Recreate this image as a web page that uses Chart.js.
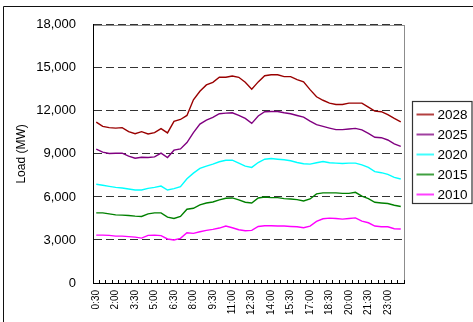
<!DOCTYPE html>
<html>
<head>
<meta charset="utf-8">
<script src="https://cdn.jsdelivr.net/npm/chart.js@4/dist/chart.umd.min.js"></script>
<style>
  html, body { margin: 0; padding: 0; background: #fff; }
  canvas { display: block; }
</style>
</head>
<body>
<canvas id="c" width="473" height="322"></canvas>
<script>
// Half-hourly time slots
const timeLabels = [
  '0:30','1:00','1:30','2:00','2:30','3:00','3:30','4:00','4:30','5:00','5:30','6:00',
  '6:30','7:00','7:30','8:00','8:30','9:00','9:30','10:00','10:30','11:00','11:30','12:00',
  '12:30','13:00','13:30','14:00','14:30','15:00','15:30','16:00','16:30','17:00','17:30','18:00',
  '18:30','19:00','19:30','20:00','20:30','21:00','21:30','22:00','22:30','23:00','23:30','24:00'
];

// Load (MW) per year
const load2028 = [11220,10920,10830,10800,10830,10550,10410,10550,10390,10480,10760,10460,
  11270,11400,11680,12770,13370,13810,13990,14340,14340,14430,14340,13990,
  13510,14020,14450,14520,14520,14390,14390,14180,14020,13480,12980,12740,
  12540,12440,12440,12540,12540,12540,12260,11980,11940,11730,11470,11240];
const load2025 = [9330,9120,9030,9050,9050,8840,8700,8770,8750,8790,9050,8750,
  9260,9350,9790,10480,11080,11360,11540,11800,11840,11870,11680,11470,
  11130,11640,11940,11960,11960,11870,11800,11680,11570,11290,11040,10920,
  10800,10690,10690,10740,10780,10670,10430,10160,10130,9970,9700,9530];
const load2020 = [6880,6810,6740,6670,6620,6550,6480,6480,6600,6670,6760,6480,
  6580,6720,7270,7660,7990,8150,8290,8450,8560,8560,8360,8150,
  8060,8400,8630,8680,8630,8590,8520,8400,8310,8290,8380,8470,
  8380,8360,8330,8360,8360,8240,8060,7760,7690,7570,7360,7250];
const load2015 = [4890,4890,4820,4750,4730,4710,4660,4640,4820,4890,4890,4590,
  4500,4640,5140,5210,5450,5580,5650,5790,5910,5930,5790,5630,
  5580,5930,6000,5950,5950,5880,5860,5810,5720,5860,6210,6280,
  6280,6280,6250,6250,6320,6050,5880,5630,5580,5540,5420,5330];
const load2010 = [3340,3340,3320,3270,3270,3230,3200,3130,3320,3340,3300,3070,
  3000,3110,3500,3460,3570,3670,3740,3830,3970,3850,3710,3640,
  3670,3940,3990,3990,3970,3970,3940,3920,3850,3970,4290,4480,
  4520,4500,4450,4500,4540,4310,4200,3970,3920,3920,3780,3760];

const seriesNames = ['2028', '2025', '2020', '2015', '2010'];
const seriesColors = ['#990000', '#800080', '#00FFFF', '#008000', '#FF00FF'];
const seriesData = [load2028, load2025, load2020, load2015, load2010];

const FONT = "'Liberation Sans', Arial, sans-serif";

// Frame, plot background border and boxed legend
const decorations = {
  id: 'decorations',
  beforeDraw(chart) {
    const ctx = chart.ctx;
    const a = chart.chartArea;
    ctx.save();
    ctx.fillStyle = '#fff';
    ctx.fillRect(0, 0, chart.width, chart.height);
    // outer frame
    ctx.strokeStyle = '#111';
    ctx.lineWidth = 1;
    ctx.beginPath();
    ctx.moveTo(3.5, chart.height);
    ctx.lineTo(3.5, 6.5);
    ctx.lineTo(chart.width, 6.5);
    ctx.stroke();
    // plot area outline
    ctx.strokeStyle = '#8c8c8c';
    ctx.strokeRect(Math.round(a.left) + 0.5, Math.round(a.top) + 0.5,
                   Math.round(a.right - a.left), Math.round(a.bottom - a.top));
    ctx.restore();
  },
  afterDraw(chart) {
    const ctx = chart.ctx;
    const a = chart.chartArea;
    const bx = a.right + 8.5, by = 101.5, bw = 59.5, bh = 102;
    ctx.save();
    ctx.fillStyle = '#fff';
    ctx.fillRect(bx, by, bw, bh);
    ctx.strokeStyle = '#333';
    ctx.lineWidth = 1.2;
    ctx.strokeRect(bx, by, bw, bh);
    ctx.font = '13.5px ' + FONT;
    ctx.textBaseline = 'middle';
    ctx.textAlign = 'left';
    chart.data.datasets.forEach((ds, i) => {
      const y = by + 13 + i * 20;
      ctx.strokeStyle = ds.borderColor;
      ctx.globalAlpha = 0.75;
      ctx.lineWidth = 2;
      ctx.beginPath();
      ctx.moveTo(bx + 4, y);
      ctx.lineTo(bx + 21.5, y);
      ctx.stroke();
      ctx.globalAlpha = 1;
      ctx.fillStyle = '#000';
      ctx.fillText(ds.label, bx + 25, y + 0.5);
    });
    ctx.restore();
  }
};

new Chart(document.getElementById('c'), {
  type: 'line',
  data: {
    labels: timeLabels,
    datasets: seriesNames.map((name, i) => ({
      label: name,
      data: seriesData[i],
      borderColor: seriesColors[i],
      backgroundColor: seriesColors[i],
      borderWidth: 1.4,
      pointRadius: 0,
      tension: 0,
      fill: false
    }))
  },
  options: {
    responsive: false,
    animation: false,
    events: [],
    layout: { padding: { top: 24, right: 69, left: 0, bottom: 0 } },
    plugins: {
      legend: { display: false },
      tooltip: { enabled: false }
    },
    scales: {
      x: {
        type: 'category',
        offset: true,
        grid: {
          offset: true,
          drawOnChartArea: false,
          drawTicks: true,
          tickLength: -3,
          color: '#000',
          lineWidth: 1
        },
        border: { display: true, color: '#000', width: 1 },
        ticks: {
          autoSkip: false,
          minRotation: 90,
          maxRotation: 90,
          padding: 10,
          color: '#000',
          font: { family: FONT, size: 10 },
          callback: (v, i) => (i % 3 === 0 ? timeLabels[i] : '')
        },
        afterFit: (s) => { s.height = 39; }
      },
      y: {
        min: 0,
        max: 18000,
        grid: {
          drawTicks: false,
          color: (c) => (c.tick && c.tick.value === 0 ? 'rgba(0,0,0,0)' : '#333'),
          lineWidth: 1
        },
        border: { display: true, color: '#000', width: 1, dash: [8, 4] },
        ticks: {
          stepSize: 3000,
          padding: 17,
          color: '#000',
          font: { family: FONT, size: 13 },
          callback: (v) => v.toLocaleString('en-US')
        },
        title: {
          display: true,
          text: 'Load (MW)',
          color: '#000',
          font: { family: FONT, size: 12 },
          padding: { top: 14, bottom: 0 }
        },
        afterFit: (s) => { s.width = 93; }
      }
    }
  },
  plugins: [decorations]
});
</script>
</body>
</html>
